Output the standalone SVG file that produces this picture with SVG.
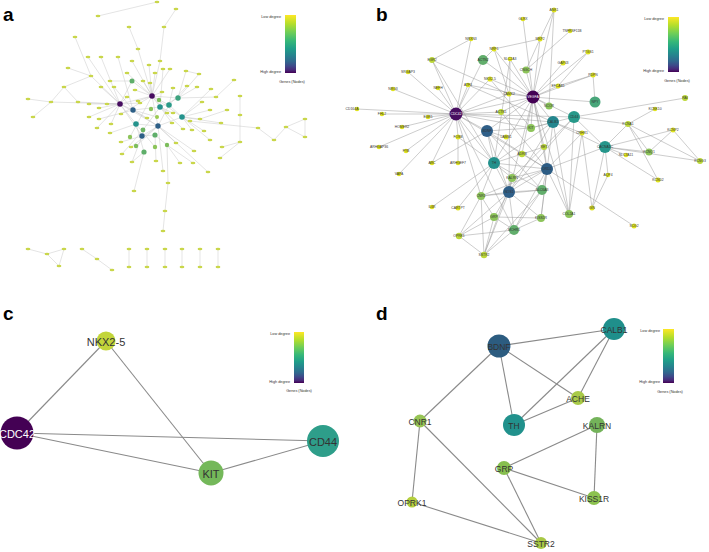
<svg xmlns="http://www.w3.org/2000/svg" width="709" height="552" viewBox="0 0 709 552">
<defs>
<linearGradient id="vir" x1="0" y1="0" x2="0" y2="1">
<stop offset="0" stop-color="#fde725"/><stop offset="0.15" stop-color="#b5de2b"/><stop offset="0.3" stop-color="#6ece58"/><stop offset="0.45" stop-color="#35b779"/><stop offset="0.58" stop-color="#1f9e89"/><stop offset="0.7" stop-color="#26828e"/><stop offset="0.8" stop-color="#31688e"/><stop offset="0.88" stop-color="#3e4989"/><stop offset="0.95" stop-color="#482878"/><stop offset="1" stop-color="#440154"/>
</linearGradient>
<style>
text{font-family:"Liberation Sans",Arial,sans-serif}
.pl{font-size:19px;font-weight:bold;fill:#000}
.lg{font-size:3.8px;fill:#333}
.ea line{stroke:#c8c8c8;stroke-width:0.5}
.eb line{stroke:#9a9a9a;stroke-width:0.5}
.ec line{stroke:#8a8a8a;stroke-width:1.1}
.sa{fill:#c9d64a}
.lb{font-size:3.4px;fill:#333;text-anchor:middle;dominant-baseline:central}
.lbw{font-size:3.4px;fill:#fff;text-anchor:middle;dominant-baseline:central}
.lc{font-size:11px;fill:#333;text-anchor:middle;dominant-baseline:central}
.ld{font-size:8.5px;fill:#333;text-anchor:middle;dominant-baseline:central}
.y{fill:#dfe31f}.y2{fill:#bcd838}.g1{fill:#8dc45a}.g2{fill:#62ae6c}
</style>
</defs>
<rect width="709" height="552" fill="#fff"/>

<!-- ===== Panel a ===== -->
<g id="panel-a">
<text class="pl" x="3" y="21">a</text>
<g id="a-edges" class="ea">
<line x1="157" y1="2" x2="98" y2="16"/><line x1="176" y1="9" x2="164" y2="27"/><line x1="164" y1="27" x2="160" y2="61"/><line x1="160" y1="61" x2="152" y2="96"/>
<line x1="129" y1="27" x2="138" y2="49"/><line x1="138" y1="49" x2="152" y2="96"/><line x1="68" y1="68" x2="91" y2="76"/><line x1="91" y1="76" x2="120" y2="104"/>
<line x1="64" y1="87" x2="91" y2="76"/><line x1="64" y1="87" x2="51" y2="102"/><line x1="28" y1="99" x2="51" y2="102"/><line x1="51" y1="102" x2="120" y2="104"/>
<line x1="33" y1="117" x2="51" y2="102"/><line x1="64" y1="87" x2="78" y2="102"/><line x1="78" y1="102" x2="120" y2="104"/><line x1="88" y1="57" x2="120" y2="104"/>
<line x1="101" y1="57" x2="120" y2="104"/><line x1="118" y1="57" x2="133" y2="110"/><line x1="132" y1="61" x2="152" y2="96"/><line x1="149" y1="65" x2="152" y2="96"/>
<line x1="127" y1="73" x2="152" y2="96"/><line x1="143" y1="81" x2="152" y2="96"/><line x1="155" y1="73" x2="152" y2="96"/><line x1="163" y1="69" x2="160" y2="107"/>
<line x1="170" y1="69" x2="152" y2="96"/><line x1="186" y1="71" x2="178" y2="98"/><line x1="199" y1="74" x2="178" y2="98"/><line x1="186" y1="71" x2="199" y2="74"/>
<line x1="234" y1="80" x2="216" y2="97"/><line x1="216" y1="97" x2="178" y2="98"/><line x1="240" y1="96" x2="240" y2="115"/><line x1="240" y1="115" x2="240" y2="142"/>
<line x1="240" y1="142" x2="222" y2="147"/><line x1="221" y1="123" x2="182" y2="117"/><line x1="190" y1="121" x2="258" y2="128"/><line x1="258" y1="128" x2="274" y2="140"/>
<line x1="274" y1="140" x2="286" y2="127"/><line x1="286" y1="127" x2="305" y2="119"/><line x1="305" y1="119" x2="305" y2="137"/><line x1="305" y1="137" x2="286" y2="127"/>
<line x1="165" y1="211" x2="163" y2="231"/><line x1="168" y1="183" x2="165" y2="211"/><line x1="167" y1="145" x2="168" y2="183"/><line x1="134" y1="191" x2="144" y2="152"/>
<line x1="89" y1="104" x2="120" y2="104"/><line x1="99" y1="108" x2="120" y2="104"/><line x1="107" y1="104" x2="120" y2="104"/><line x1="89" y1="117" x2="120" y2="104"/>
<line x1="99" y1="119" x2="133" y2="110"/><line x1="111" y1="124" x2="120" y2="104"/><line x1="121" y1="114" x2="152" y2="96"/><line x1="97" y1="128" x2="120" y2="104"/>
<line x1="110" y1="133" x2="136" y2="124"/><line x1="121" y1="142" x2="142" y2="136"/><line x1="131" y1="147" x2="158" y2="126"/><line x1="122" y1="154" x2="143" y2="130"/>
<line x1="132" y1="162" x2="142" y2="136"/><line x1="132" y1="162" x2="144" y2="152"/><line x1="156" y1="161" x2="155" y2="135"/><line x1="163" y1="171" x2="158" y2="126"/>
<line x1="180" y1="163" x2="167" y2="145"/><line x1="193" y1="163" x2="167" y2="145"/><line x1="208" y1="172" x2="158" y2="126"/><line x1="194" y1="151" x2="158" y2="126"/>
<line x1="220" y1="158" x2="240" y2="142"/><line x1="176" y1="143" x2="158" y2="126"/><line x1="183" y1="129" x2="160" y2="107"/><line x1="192" y1="130" x2="182" y2="117"/>
<line x1="204" y1="131" x2="182" y2="117"/><line x1="210" y1="140" x2="182" y2="117"/><line x1="200" y1="119" x2="182" y2="117"/><line x1="202" y1="102" x2="182" y2="117"/>
<line x1="210" y1="110" x2="182" y2="117"/><line x1="227" y1="110" x2="200" y2="119"/><line x1="172" y1="123" x2="160" y2="107"/><line x1="173" y1="113" x2="160" y2="107"/>
<line x1="167" y1="113" x2="152" y2="96"/><line x1="147" y1="118" x2="133" y2="110"/><line x1="140" y1="103" x2="120" y2="104"/><line x1="138" y1="101" x2="152" y2="96"/>
<line x1="127" y1="97" x2="120" y2="104"/><line x1="135" y1="90" x2="152" y2="96"/><line x1="150" y1="83" x2="152" y2="96"/><line x1="162" y1="92" x2="152" y2="96"/>
<line x1="173" y1="88" x2="169" y2="105"/><line x1="187" y1="86" x2="169" y2="105"/><line x1="197" y1="87" x2="178" y2="98"/><line x1="211" y1="89" x2="182" y2="117"/>
<line x1="101" y1="87" x2="120" y2="104"/><line x1="114" y1="87" x2="133" y2="110"/><line x1="110" y1="81" x2="132" y2="81"/><line x1="132" y1="81" x2="152" y2="96"/>
<line x1="132" y1="81" x2="120" y2="104"/><line x1="120" y1="104" x2="152" y2="96"/><line x1="120" y1="104" x2="133" y2="110"/><line x1="120" y1="104" x2="136" y2="124"/>
<line x1="120" y1="104" x2="142" y2="136"/><line x1="120" y1="104" x2="158" y2="126"/><line x1="152" y1="96" x2="160" y2="107"/><line x1="152" y1="96" x2="169" y2="105"/>
<line x1="152" y1="96" x2="158" y2="126"/><line x1="152" y1="96" x2="182" y2="117"/><line x1="152" y1="96" x2="178" y2="98"/><line x1="133" y1="110" x2="158" y2="126"/>
<line x1="133" y1="110" x2="160" y2="107"/><line x1="136" y1="124" x2="158" y2="126"/><line x1="136" y1="124" x2="144" y2="152"/><line x1="142" y1="136" x2="158" y2="126"/>
<line x1="142" y1="136" x2="155" y2="135"/><line x1="158" y1="126" x2="169" y2="105"/><line x1="158" y1="126" x2="182" y2="117"/><line x1="155" y1="135" x2="167" y2="145"/>
<line x1="143" y1="130" x2="160" y2="107"/><line x1="136" y1="146" x2="158" y2="126"/><line x1="130" y1="137" x2="152" y2="96"/><line x1="157" y1="117" x2="133" y2="110"/>
<line x1="155" y1="147" x2="136" y2="124"/><line x1="160" y1="107" x2="178" y2="98"/><line x1="169" y1="105" x2="182" y2="117"/><line x1="75" y1="37" x2="91" y2="76"/>
<line x1="28" y1="249" x2="47" y2="254"/><line x1="47" y1="254" x2="64" y2="249"/><line x1="47" y1="254" x2="59" y2="266"/><line x1="64" y1="249" x2="59" y2="266"/>
<line x1="82" y1="249" x2="97" y2="259"/><line x1="97" y1="259" x2="112" y2="270"/>
<line x1="129" y1="249" x2="129" y2="267"/><line x1="147" y1="249" x2="147" y2="267"/><line x1="165" y1="249" x2="165" y2="267"/><line x1="182" y1="249" x2="182" y2="267"/><line x1="200" y1="249" x2="200" y2="267"/><line x1="218" y1="249" x2="218" y2="267"/>
</g>
<g id="a-nodes" class="sa">
<ellipse cx="157" cy="2" rx="2.4" ry="1.2"/><ellipse cx="98" cy="16" rx="2.4" ry="1.2"/><ellipse cx="176" cy="9" rx="2.4" ry="1.2"/><ellipse cx="164" cy="27" rx="2.4" ry="1.2"/><ellipse cx="129" cy="27" rx="2.4" ry="1.2"/><ellipse cx="75" cy="37" rx="2.4" ry="1.2"/><ellipse cx="138" cy="49" rx="2.4" ry="1.2"/><ellipse cx="88" cy="57" rx="2.4" ry="1.2"/><ellipse cx="101" cy="57" rx="2.4" ry="1.2"/><ellipse cx="118" cy="57" rx="2.4" ry="1.2"/><ellipse cx="132" cy="61" rx="2.4" ry="1.2"/><ellipse cx="160" cy="61" rx="2.4" ry="1.2"/><ellipse cx="149" cy="65" rx="2.4" ry="1.2"/><ellipse cx="68" cy="68" rx="2.4" ry="1.2"/><ellipse cx="91" cy="76" rx="2.4" ry="1.2"/><ellipse cx="110" cy="81" rx="2.4" ry="1.2"/><ellipse cx="127" cy="73" rx="2.4" ry="1.2"/><ellipse cx="143" cy="81" rx="2.4" ry="1.2"/><ellipse cx="155" cy="73" rx="2.4" ry="1.2"/><ellipse cx="163" cy="69" rx="2.4" ry="1.2"/><ellipse cx="170" cy="69" rx="2.4" ry="1.2"/><ellipse cx="186" cy="71" rx="2.4" ry="1.2"/><ellipse cx="199" cy="74" rx="2.4" ry="1.2"/><ellipse cx="64" cy="87" rx="2.4" ry="1.2"/><ellipse cx="101" cy="87" rx="2.4" ry="1.2"/><ellipse cx="114" cy="87" rx="2.4" ry="1.2"/><ellipse cx="135" cy="90" rx="2.4" ry="1.2"/><ellipse cx="150" cy="83" rx="2.4" ry="1.2"/><ellipse cx="162" cy="92" rx="2.4" ry="1.2"/><ellipse cx="173" cy="88" rx="2.4" ry="1.2"/><ellipse cx="187" cy="86" rx="2.4" ry="1.2"/><ellipse cx="197" cy="87" rx="2.4" ry="1.2"/><ellipse cx="211" cy="89" rx="2.4" ry="1.2"/><ellipse cx="234" cy="80" rx="2.4" ry="1.2"/><ellipse cx="216" cy="97" rx="2.4" ry="1.2"/><ellipse cx="240" cy="96" rx="2.4" ry="1.2"/><ellipse cx="28" cy="99" rx="2.4" ry="1.2"/><ellipse cx="51" cy="102" rx="2.4" ry="1.2"/><ellipse cx="78" cy="102" rx="2.4" ry="1.2"/><ellipse cx="89" cy="104" rx="2.4" ry="1.2"/><ellipse cx="99" cy="108" rx="2.4" ry="1.2"/><ellipse cx="107" cy="104" rx="2.4" ry="1.2"/><ellipse cx="33" cy="117" rx="2.4" ry="1.2"/><ellipse cx="89" cy="117" rx="2.4" ry="1.2"/><ellipse cx="99" cy="119" rx="2.4" ry="1.2"/><ellipse cx="111" cy="124" rx="2.4" ry="1.2"/><ellipse cx="121" cy="114" rx="2.4" ry="1.2"/><ellipse cx="127" cy="97" rx="2.4" ry="1.2"/><ellipse cx="140" cy="103" rx="2.4" ry="1.2"/><ellipse cx="147" cy="118" rx="2.4" ry="1.2"/><ellipse cx="138" cy="101" rx="2.4" ry="1.2"/><ellipse cx="167" cy="113" rx="2.4" ry="1.2"/><ellipse cx="173" cy="113" rx="2.4" ry="1.2"/><ellipse cx="172" cy="123" rx="2.4" ry="1.2"/><ellipse cx="190" cy="121" rx="2.4" ry="1.2"/><ellipse cx="202" cy="102" rx="2.4" ry="1.2"/><ellipse cx="210" cy="110" rx="2.4" ry="1.2"/><ellipse cx="227" cy="110" rx="2.4" ry="1.2"/><ellipse cx="200" cy="119" rx="2.4" ry="1.2"/><ellipse cx="192" cy="130" rx="2.4" ry="1.2"/><ellipse cx="204" cy="131" rx="2.4" ry="1.2"/><ellipse cx="221" cy="123" rx="2.4" ry="1.2"/><ellipse cx="240" cy="115" rx="2.4" ry="1.2"/><ellipse cx="210" cy="140" rx="2.4" ry="1.2"/><ellipse cx="222" cy="147" rx="2.4" ry="1.2"/><ellipse cx="240" cy="142" rx="2.4" ry="1.2"/><ellipse cx="97" cy="128" rx="2.4" ry="1.2"/><ellipse cx="110" cy="133" rx="2.4" ry="1.2"/><ellipse cx="121" cy="142" rx="2.4" ry="1.2"/><ellipse cx="131" cy="147" rx="2.4" ry="1.2"/><ellipse cx="122" cy="154" rx="2.4" ry="1.2"/><ellipse cx="132" cy="162" rx="2.4" ry="1.2"/><ellipse cx="156" cy="161" rx="2.4" ry="1.2"/><ellipse cx="163" cy="171" rx="2.4" ry="1.2"/><ellipse cx="168" cy="183" rx="2.4" ry="1.2"/><ellipse cx="134" cy="191" rx="2.4" ry="1.2"/><ellipse cx="180" cy="163" rx="2.4" ry="1.2"/><ellipse cx="193" cy="163" rx="2.4" ry="1.2"/><ellipse cx="208" cy="172" rx="2.4" ry="1.2"/><ellipse cx="194" cy="151" rx="2.4" ry="1.2"/><ellipse cx="220" cy="158" rx="2.4" ry="1.2"/><ellipse cx="176" cy="143" rx="2.4" ry="1.2"/><ellipse cx="183" cy="129" rx="2.4" ry="1.2"/><ellipse cx="258" cy="128" rx="2.4" ry="1.2"/><ellipse cx="274" cy="140" rx="2.4" ry="1.2"/><ellipse cx="286" cy="127" rx="2.4" ry="1.2"/><ellipse cx="305" cy="119" rx="2.4" ry="1.2"/><ellipse cx="305" cy="137" rx="2.4" ry="1.2"/><ellipse cx="165" cy="211" rx="2.4" ry="1.2"/><ellipse cx="163" cy="231" rx="2.4" ry="1.2"/>
<ellipse cx="28" cy="249" rx="2.4" ry="1.2"/><ellipse cx="47" cy="254" rx="2.4" ry="1.2"/><ellipse cx="64" cy="249" rx="2.4" ry="1.2"/><ellipse cx="59" cy="266" rx="2.4" ry="1.2"/><ellipse cx="82" cy="249" rx="2.4" ry="1.2"/><ellipse cx="97" cy="259" rx="2.4" ry="1.2"/><ellipse cx="112" cy="270" rx="2.4" ry="1.2"/>
<ellipse cx="129" cy="249" rx="2.4" ry="1.2"/><ellipse cx="129" cy="267" rx="2.4" ry="1.2"/><ellipse cx="147" cy="249" rx="2.4" ry="1.2"/><ellipse cx="147" cy="267" rx="2.4" ry="1.2"/><ellipse cx="165" cy="249" rx="2.4" ry="1.2"/><ellipse cx="165" cy="267" rx="2.4" ry="1.2"/><ellipse cx="182" cy="249" rx="2.4" ry="1.2"/><ellipse cx="182" cy="267" rx="2.4" ry="1.2"/><ellipse cx="200" cy="249" rx="2.4" ry="1.2"/><ellipse cx="200" cy="267" rx="2.4" ry="1.2"/><ellipse cx="218" cy="249" rx="2.4" ry="1.2"/><ellipse cx="218" cy="267" rx="2.4" ry="1.2"/>
</g>
<g id="a-hubs">
<circle cx="132" cy="81" r="2.5" fill="#5fae6a"/><circle cx="159" cy="100" r="2.2" fill="#7cbd5c"/><circle cx="151" cy="109" r="2.2" fill="#8cc45a"/><circle cx="136" cy="146" r="2.2" fill="#7cbd5c"/><circle cx="130" cy="137" r="2.2" fill="#8cc45a"/><circle cx="157" cy="117" r="2" fill="#9bca52"/><circle cx="155" cy="147" r="2.2" fill="#8cc45a"/><circle cx="167" cy="145" r="2.2" fill="#7cbd5c"/>
<circle cx="144" cy="152" r="2.6" fill="#5fae6a"/><circle cx="155" cy="135" r="2.6" fill="#5fae6a"/><circle cx="143" cy="130" r="2.4" fill="#6db562"/>
<circle cx="178" cy="98" r="2.7" fill="#3ea37f"/><circle cx="136" cy="124" r="2.8" fill="#24928c"/><circle cx="160" cy="107" r="2.8" fill="#26928c"/><circle cx="169" cy="105" r="2.8" fill="#2a9a88"/><circle cx="182" cy="117" r="2.8" fill="#24928c"/>
<circle cx="133" cy="110" r="2.7" fill="#2d5f86"/><circle cx="158" cy="126" r="2.7" fill="#2d5f86"/><circle cx="142" cy="136" r="2.7" fill="#2d5f86"/>
<circle cx="120" cy="104" r="2.8" fill="#470d60"/><circle cx="152" cy="96" r="2.8" fill="#470d60"/>
</g>
<g id="a-legend">
<rect x="285" y="15" width="11" height="58" fill="url(#vir)"/>
<text class="lg" x="281" y="18" text-anchor="end">Low degree</text>
<text class="lg" x="281" y="73" text-anchor="end">High degree</text>
<text class="lg" x="292" y="83" text-anchor="middle">Genes (Nodes)</text>
</g>
</g>

<!-- ===== Panel b ===== -->
<g id="panel-b">
<text class="pl" x="376" y="21">b</text>
<g id="b-edges" class="eb">
<line x1="456" y1="114" x2="432" y2="60"/><line x1="456" y1="114" x2="408" y2="72"/><line x1="456" y1="114" x2="393" y2="89"/><line x1="456" y1="114" x2="438" y2="88"/>
<line x1="456" y1="114" x2="382" y2="114"/><line x1="456" y1="114" x2="357" y2="109"/><line x1="456" y1="114" x2="402" y2="127"/><line x1="456" y1="114" x2="428" y2="117"/>
<line x1="456" y1="114" x2="379" y2="147"/><line x1="456" y1="114" x2="406" y2="151"/><line x1="456" y1="114" x2="432" y2="163"/><line x1="456" y1="114" x2="399" y2="174"/>
<line x1="456" y1="114" x2="471" y2="39"/><line x1="456" y1="114" x2="468" y2="85"/><line x1="456" y1="114" x2="533" y2="97"/><line x1="456" y1="114" x2="574" y2="117"/>
<line x1="456" y1="114" x2="494" y2="163"/><line x1="456" y1="114" x2="487" y2="131"/><line x1="456" y1="114" x2="501" y2="112"/><line x1="456" y1="114" x2="509" y2="94"/>
<line x1="456" y1="114" x2="458" y2="137"/><line x1="456" y1="114" x2="547" y2="169"/><line x1="456" y1="114" x2="553" y2="122"/><line x1="456" y1="114" x2="531" y2="128"/>
<line x1="456" y1="114" x2="490" y2="79"/><line x1="456" y1="114" x2="514" y2="230"/><line x1="456" y1="114" x2="481" y2="196"/><line x1="456" y1="114" x2="483" y2="60"/>
<line x1="533" y1="97" x2="554" y2="10"/><line x1="533" y1="97" x2="540" y2="39"/><line x1="533" y1="97" x2="563" y2="63"/><line x1="533" y1="97" x2="558" y2="86"/>
<line x1="533" y1="97" x2="593" y2="75"/><line x1="533" y1="97" x2="494" y2="49"/><line x1="533" y1="97" x2="483" y2="60"/><line x1="533" y1="97" x2="510" y2="59"/>
<line x1="533" y1="97" x2="509" y2="94"/><line x1="533" y1="97" x2="490" y2="79"/><line x1="533" y1="97" x2="531" y2="128"/><line x1="533" y1="97" x2="574" y2="117"/>
<line x1="533" y1="97" x2="553" y2="122"/><line x1="533" y1="97" x2="595" y2="102"/><line x1="533" y1="97" x2="549" y2="106"/><line x1="533" y1="97" x2="494" y2="163"/>
<line x1="533" y1="97" x2="487" y2="131"/><line x1="533" y1="97" x2="547" y2="169"/><line x1="533" y1="97" x2="509" y2="192"/><line x1="533" y1="97" x2="588" y2="52"/>
<line x1="533" y1="97" x2="523" y2="19"/><line x1="533" y1="97" x2="526" y2="70"/><line x1="533" y1="97" x2="569" y2="214"/><line x1="533" y1="97" x2="501" y2="112"/>
<line x1="533" y1="97" x2="522" y2="154"/><line x1="533" y1="97" x2="544" y2="147"/><line x1="533" y1="97" x2="468" y2="85"/>
<line x1="554" y1="10" x2="540" y2="39"/><line x1="554" y1="10" x2="549" y2="106"/><line x1="570" y1="31" x2="526" y2="70"/><line x1="588" y1="52" x2="558" y2="86"/>
<line x1="593" y1="75" x2="595" y2="102"/><line x1="593" y1="75" x2="558" y2="86"/><line x1="471" y1="39" x2="432" y2="60"/><line x1="494" y1="49" x2="540" y2="39"/>
<line x1="494" y1="49" x2="483" y2="60"/><line x1="494" y1="49" x2="509" y2="94"/><line x1="510" y1="59" x2="509" y2="192"/><line x1="510" y1="59" x2="494" y2="163"/>
<line x1="432" y1="60" x2="494" y2="163"/><line x1="540" y1="39" x2="526" y2="70"/>
<line x1="574" y1="117" x2="685" y2="98"/><line x1="574" y1="117" x2="628" y2="124"/><line x1="655" y1="109" x2="628" y2="124"/><line x1="628" y1="124" x2="605" y2="147"/>
<line x1="628" y1="124" x2="700" y2="161"/><line x1="628" y1="124" x2="649" y2="152"/><line x1="673" y1="130" x2="649" y2="152"/><line x1="673" y1="130" x2="700" y2="161"/>
<line x1="673" y1="130" x2="605" y2="147"/><line x1="605" y1="147" x2="626" y2="155"/><line x1="605" y1="147" x2="700" y2="161"/><line x1="605" y1="147" x2="649" y2="152"/>
<line x1="605" y1="147" x2="608" y2="175"/><line x1="605" y1="147" x2="547" y2="169"/><line x1="605" y1="147" x2="658" y2="180"/><line x1="605" y1="147" x2="553" y2="122"/>
<line x1="605" y1="147" x2="574" y2="117"/><line x1="658" y1="180" x2="628" y2="124"/><line x1="608" y1="175" x2="592" y2="208"/>
<line x1="547" y1="169" x2="634" y2="226"/><line x1="547" y1="169" x2="569" y2="214"/><line x1="547" y1="169" x2="541" y2="218"/><line x1="547" y1="169" x2="542" y2="190"/>
<line x1="547" y1="169" x2="494" y2="163"/><line x1="547" y1="169" x2="512" y2="178"/><line x1="547" y1="169" x2="481" y2="196"/><line x1="547" y1="169" x2="544" y2="147"/>
<line x1="547" y1="169" x2="582" y2="133"/><line x1="547" y1="169" x2="509" y2="192"/><line x1="547" y1="169" x2="514" y2="230"/>
<line x1="582" y1="133" x2="592" y2="208"/><line x1="582" y1="133" x2="569" y2="214"/><line x1="569" y1="214" x2="553" y2="122"/><line x1="582" y1="133" x2="553" y2="122"/>
<line x1="494" y1="163" x2="481" y2="196"/><line x1="494" y1="163" x2="512" y2="178"/><line x1="494" y1="163" x2="522" y2="154"/><line x1="494" y1="163" x2="487" y2="131"/>
<line x1="494" y1="163" x2="432" y2="207"/><line x1="494" y1="163" x2="458" y2="208"/><line x1="494" y1="163" x2="509" y2="192"/><line x1="494" y1="163" x2="458" y2="137"/>
<line x1="494" y1="163" x2="542" y2="190"/><line x1="494" y1="163" x2="553" y2="122"/>
<line x1="509" y1="192" x2="494" y2="217"/><line x1="509" y1="192" x2="514" y2="230"/><line x1="509" y1="192" x2="481" y2="196"/><line x1="509" y1="192" x2="484" y2="255"/>
<line x1="509" y1="192" x2="459" y2="236"/><line x1="509" y1="192" x2="541" y2="218"/><line x1="509" y1="192" x2="542" y2="190"/><line x1="509" y1="192" x2="512" y2="178"/>
<line x1="509" y1="192" x2="487" y2="131"/><line x1="509" y1="192" x2="553" y2="122"/><line x1="509" y1="192" x2="574" y2="117"/>
<line x1="481" y1="196" x2="459" y2="236"/><line x1="481" y1="196" x2="484" y2="255"/><line x1="481" y1="196" x2="494" y2="217"/><line x1="481" y1="196" x2="542" y2="190"/>
<line x1="494" y1="217" x2="541" y2="218"/><line x1="494" y1="217" x2="484" y2="255"/><line x1="494" y1="217" x2="514" y2="230"/><line x1="494" y1="217" x2="459" y2="236"/>
<line x1="459" y1="236" x2="484" y2="255"/><line x1="459" y1="236" x2="514" y2="230"/><line x1="484" y1="255" x2="514" y2="230"/><line x1="484" y1="255" x2="512" y2="178"/>
<line x1="484" y1="255" x2="542" y2="190"/><line x1="514" y1="230" x2="541" y2="218"/><line x1="514" y1="230" x2="542" y2="190"/><line x1="458" y1="137" x2="458" y2="163"/>
<line x1="487" y1="131" x2="531" y2="128"/><line x1="487" y1="131" x2="506" y2="137"/><line x1="487" y1="131" x2="547" y2="169"/><line x1="487" y1="131" x2="542" y2="190"/>
<line x1="531" y1="128" x2="553" y2="122"/><line x1="531" y1="128" x2="574" y2="117"/><line x1="531" y1="128" x2="490" y2="79"/><line x1="468" y1="85" x2="553" y2="122"/>
<line x1="501" y1="112" x2="547" y2="169"/><line x1="541" y1="218" x2="553" y2="122"/><line x1="512" y1="178" x2="574" y2="117"/><line x1="522" y1="154" x2="544" y2="147"/>
<line x1="569" y1="214" x2="574" y2="117"/><line x1="592" y1="208" x2="605" y2="147"/><line x1="432" y1="163" x2="487" y2="131"/><line x1="432" y1="60" x2="509" y2="94"/>
</g>
<g id="b-nodes">
<circle class="y" cx="554" cy="10" r="2.5"/><circle class="y" cx="523" cy="19" r="2.3"/><circle class="y" cx="570" cy="31" r="2.3"/><circle class="y" cx="471" cy="39" r="2.3"/><circle class="y" cx="540" cy="39" r="2.5"/><circle class="y" cx="494" cy="49" r="2.5"/><circle class="y" cx="510" cy="59" r="2.3"/><circle class="y" cx="588" cy="52" r="2.5"/><circle class="y" cx="563" cy="63" r="2.5"/><circle class="y" cx="408" cy="72" r="2.3"/><circle class="y" cx="593" cy="75" r="2.5"/><circle class="y" cx="490" cy="79" r="2.6"/><circle class="y" cx="468" cy="85" r="2.3"/><circle class="y" cx="558" cy="86" r="2.5"/><circle class="y" cx="438" cy="88" r="2.3"/><circle class="y" cx="393" cy="89" r="2.3"/><circle class="y" cx="509" cy="94" r="2.5"/><circle class="y" cx="655" cy="109" r="2.3"/><circle class="y" cx="357" cy="109" r="2.3"/><circle class="y" cx="382" cy="114" r="2.3"/><circle class="y" cx="428" cy="117" r="2.3"/><circle class="y" cx="402" cy="127" r="2.3"/><circle class="y" cx="458" cy="137" r="2.5"/><circle class="y" cx="506" cy="137" r="2.5"/><circle class="y" cx="673" cy="130" r="2.5"/><circle class="y" cx="582" cy="133" r="2.5"/><circle class="y" cx="379" cy="147" r="2.3"/><circle class="y" cx="406" cy="151" r="2.3"/><circle class="y" cx="432" cy="163" r="2.3"/><circle class="y" cx="458" cy="163" r="2.3"/><circle class="y" cx="399" cy="174" r="2.3"/><circle class="y" cx="626" cy="155" r="2.3"/><circle class="y" cx="608" cy="175" r="2.3"/><circle class="y" cx="658" cy="180" r="2.5"/><circle class="y" cx="432" cy="207" r="2.3"/><circle class="y" cx="458" cy="208" r="2.5"/><circle class="y" cx="592" cy="208" r="2.5"/><circle class="y" cx="634" cy="226" r="2.5"/>
<circle class="y2" cx="432" cy="60" r="3"/><circle class="y2" cx="501" cy="112" r="3"/><circle class="y2" cx="685" cy="98" r="3"/><circle class="y2" cx="628" cy="124" r="3"/><circle class="y2" cx="700" cy="161" r="3"/><circle class="y2" cx="459" cy="236" r="3.2"/><circle class="y2" cx="484" cy="255" r="3.2"/><circle class="y2" cx="544" cy="147" r="3"/><circle class="y2" cx="522" cy="154" r="3.2"/>
<circle class="g1" cx="649" cy="152" r="3.6"/><circle class="g1" cx="526" cy="70" r="3.6"/><circle class="g1" cx="549" cy="106" r="3.6"/><circle class="g1" cx="531" cy="128" r="4"/><circle class="g1" cx="512" cy="178" r="4"/><circle class="g1" cx="481" cy="196" r="4"/><circle class="g1" cx="494" cy="217" r="4"/><circle class="g1" cx="541" cy="218" r="4"/><circle class="g1" cx="569" cy="214" r="4"/>
<circle class="g2" cx="514" cy="230" r="5"/><circle class="g2" cx="542" cy="190" r="5"/><circle class="g2" cx="483" cy="60" r="5"/>
<circle cx="595" cy="102" r="5.5" fill="#48a67a"/><circle cx="574" cy="117" r="6" fill="#27998a"/><circle cx="553" cy="122" r="6" fill="#23868e"/><circle cx="494" cy="163" r="6" fill="#24918c"/><circle cx="605" cy="147" r="6" fill="#25968b"/>
<circle cx="487" cy="131" r="6" fill="#2f5f88"/><circle cx="547" cy="169" r="6" fill="#2c5c84"/><circle cx="509" cy="192" r="6" fill="#2f5f88"/>
<circle cx="533" cy="97" r="6.5" fill="#440154"/><circle cx="456" cy="114" r="6.5" fill="#470d60"/>
</g>
<g id="b-labels">
<text class="lb" x="554" y="10">ANK1</text><text class="lb" x="523" y="19">GLRX</text><text class="lb" x="572" y="31">TNFRSF11B</text><text class="lb" x="471" y="39">NRXN3</text><text class="lb" x="540" y="39">MKP2</text><text class="lb" x="494" y="49">NRP1</text><text class="lb" x="510" y="59">SLC2A3</text><text class="lb" x="588" y="52">PTGS1</text><text class="lb" x="563" y="63">GAP43</text><text class="lb" x="408" y="72">SRGAP3</text><text class="lb" x="593" y="75">PDPN</text><text class="lb" x="490" y="79">NKX2-5</text><text class="lb" x="468" y="85">ATF3</text><text class="lb" x="558" y="86">EFCAB1</text><text class="lb" x="438" y="88">NEFH</text><text class="lb" x="393" y="89">NRG3</text><text class="lb" x="509" y="94">CAMK2</text><text class="lb" x="655" y="109">KCNK10</text><text class="lb" x="352" y="109">CD164A</text><text class="lb" x="382" y="114">FHL2</text><text class="lb" x="428" y="117">EGR1</text><text class="lb" x="402" y="127">HOMER2</text><text class="lb" x="458" y="137">FOSB</text><text class="lb" x="506" y="137">LAMB1</text><text class="lb" x="673" y="130">KCNP2</text><text class="lb" x="582" y="133">CRHR1</text><text class="lb" x="379" y="147">ARHGAP36</text><text class="lb" x="406" y="151">FYB</text><text class="lb" x="432" y="163">ARC</text><text class="lb" x="458" y="163">ARHGEF7</text><text class="lb" x="399" y="174">VAPA</text><text class="lb" x="626" y="155">SLC7A11</text><text class="lb" x="608" y="175">AQP4</text><text class="lb" x="658" y="180">KCND2</text><text class="lb" x="432" y="207">IL6R</text><text class="lb" x="458" y="208">CARTPT</text><text class="lb" x="592" y="208">GIN</text><text class="lb" x="634" y="226">SCG2</text>
<text class="lb" x="432" y="60">EGR2</text><text class="lb" x="501" y="112">ACTN1</text><text class="lb" x="685" y="98">RAI</text><text class="lb" x="628" y="124">KCNA1</text><text class="lb" x="700" y="161">KCNG3</text><text class="lb" x="459" y="236">OPRK1</text><text class="lb" x="484" y="255">SSTR2</text><text class="lb" x="544" y="147">RET</text><text class="lb" x="522" y="154">ADRB</text>
<text class="lb" x="649" y="152">KCNQ1</text><text class="lb" x="526" y="70">CNGCH</text><text class="lb" x="549" y="106">NCOR</text><text class="lb" x="531" y="128">KIT</text><text class="lb" x="512" y="178">KALRN</text><text class="lb" x="481" y="196">CNR1</text><text class="lb" x="494" y="217">GRP</text><text class="lb" x="541" y="218">KISS1R</text><text class="lb" x="569" y="214">COL2A1</text>
<text class="lb" x="514" y="230">MCHR1</text><text class="lb" x="542" y="190">SLC6A3</text><text class="lb" x="483" y="60">ACTN2</text>
<text class="lb" x="595" y="102">NPY</text><text class="lb" x="574" y="117">CD44</text><text class="lb" x="553" y="122">CALB1</text><text class="lb" x="494" y="163">TH</text><text class="lb" x="605" y="147">CACNA1C</text>
<text class="lb" x="487" y="131">BDNF</text><text class="lb" x="547" y="169">DRD2</text><text class="lb" x="509" y="192">NOS1</text>
<text class="lbw" x="533" y="97">VEGFA</text><text class="lbw" x="456" y="114">CDC42</text>
</g>
<g id="b-legend">
<rect x="668" y="17" width="11" height="55" fill="url(#vir)"/>
<text class="lg" x="664" y="20" text-anchor="end">Low degree</text>
<text class="lg" x="664" y="72" text-anchor="end">High degree</text>
<text class="lg" x="677" y="82" text-anchor="middle">Genes (Nodes)</text>
</g>
</g>

<!-- ===== Panel c ===== -->
<g id="panel-c">
<text class="pl" x="3" y="320">c</text>
<g id="c-edges" class="ec">
<line x1="106" y1="341" x2="17" y2="433"/><line x1="106" y1="341" x2="211" y2="473"/><line x1="17" y1="433" x2="323" y2="441"/><line x1="17" y1="433" x2="211" y2="473"/><line x1="211" y1="473" x2="323" y2="441"/>
</g>
<g id="c-NKX2-5"><circle cx="106" cy="341" r="9.5" fill="#c2d53a"/><text class="lc" x="106" y="342">NKX2-5</text></g>
<g id="c-CDC42"><circle cx="17" cy="433" r="16.5" fill="#440154"/><text class="lc" x="17" y="434" fill="#fff" style="fill:#fff">CDC42</text></g>
<g id="c-CD44"><circle cx="323" cy="441" r="16" fill="#2e9e8a"/><text class="lc" x="323" y="442">CD44</text></g>
<g id="c-KIT"><circle cx="211" cy="473" r="12.5" fill="#74b85a"/><text class="lc" x="211" y="474">KIT</text></g>
<g id="c-legend">
<rect x="294" y="332" width="10" height="51" fill="url(#vir)"/>
<text class="lg" x="290" y="335" text-anchor="end">Low degree</text>
<text class="lg" x="290" y="383" text-anchor="end">High degree</text>
<text class="lg" x="299" y="392" text-anchor="middle">Genes (Nodes)</text>
</g>
</g>

<!-- ===== Panel d ===== -->
<g id="panel-d">
<text class="pl" x="376" y="320">d</text>
<g id="d-edges" class="ec">
<line x1="499" y1="346" x2="614" y2="329"/><line x1="499" y1="346" x2="514" y2="425"/><line x1="499" y1="346" x2="578" y2="398"/><line x1="499" y1="346" x2="420" y2="421"/>
<line x1="614" y1="329" x2="514" y2="425"/><line x1="614" y1="329" x2="578" y2="398"/><line x1="578" y1="398" x2="514" y2="425"/>
<line x1="597" y1="425" x2="504" y2="468"/><line x1="597" y1="425" x2="594" y2="498"/><line x1="504" y1="468" x2="594" y2="498"/><line x1="504" y1="468" x2="541" y2="543"/>
<line x1="420" y1="421" x2="412" y2="502"/><line x1="420" y1="421" x2="541" y2="543"/><line x1="412" y1="502" x2="541" y2="543"/>
</g>
<g id="d-CALB1"><circle cx="614" cy="329" r="11" fill="#1f8f8b"/><text class="ld" x="614" y="330">CALB1</text></g>
<g id="d-BDNF"><circle cx="499" cy="346" r="11.5" fill="#2c5c80"/><text class="ld" x="499" y="347">BDNF</text></g>
<g id="d-ACHE"><circle cx="578" cy="398" r="7" fill="#a8ca48"/><text class="ld" x="578" y="399">ACHE</text></g>
<g id="d-TH"><circle cx="514" cy="425" r="11" fill="#21918c"/><text class="ld" x="514" y="426">TH</text></g>
<g id="d-KALRN"><circle cx="597" cy="425" r="8" fill="#74b35a"/><text class="ld" x="597" y="426">KALRN</text></g>
<g id="d-CNR1"><circle cx="420" cy="421" r="6.5" fill="#97c455"/><text class="ld" x="420" y="422">CNR1</text></g>
<g id="d-GRP"><circle cx="504" cy="468" r="7" fill="#87bf4f"/><text class="ld" x="504" y="469">GRP</text></g>
<g id="d-KISS1R"><circle cx="594" cy="498" r="7" fill="#8cc24f"/><text class="ld" x="594" y="499">KISS1R</text></g>
<g id="d-OPRK1"><circle cx="412" cy="502" r="5.5" fill="#b5cf3e"/><text class="ld" x="412" y="503">OPRK1</text></g>
<g id="d-SSTR2"><circle cx="541" cy="543" r="6" fill="#a8c845"/><text class="ld" x="541" y="544">SSTR2</text></g>
<g id="d-legend">
<rect x="663" y="329" width="11" height="54" fill="url(#vir)"/>
<text class="lg" x="660" y="332" text-anchor="end">Low degree</text>
<text class="lg" x="660" y="383" text-anchor="end">High degree</text>
<text class="lg" x="670" y="393" text-anchor="middle">Genes (Nodes)</text>
</g>
</g>
</svg>
